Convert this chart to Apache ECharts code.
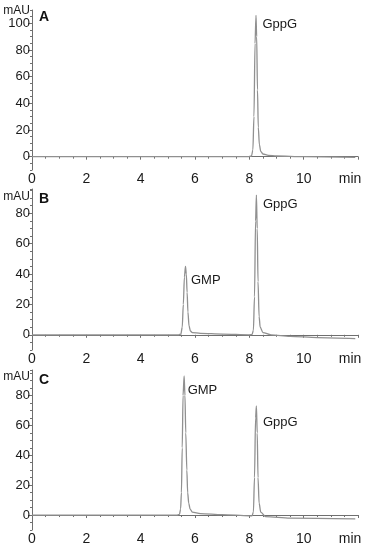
<!DOCTYPE html>
<html><head><meta charset="utf-8">
<script src="https://cdn.jsdelivr.net/npm/echarts@6/dist/echarts.min.js"></script>
<style>html,body{margin:0;padding:0;background:#fff}#c{width:368px;height:550px}</style>
</head><body><div id="c"></div>
<script>
// ---- data ----
const xTicks = [0, 2, 4, 6, 8, 10, 12];
const yTicksA = [0, 20, 40, 60, 80, 100];
const yTicksBC = [0, 20, 40, 60, 80];
const panelNames = ['A', 'B', 'C'];

const timeA   = [0, 2, 4, 6, 7.95, 8.08, 8.13, 8.17, 8.21, 8.245, 8.27, 8.30, 8.33, 8.37, 8.42, 8.50, 8.70, 9.0, 10.0, 11.9];
const signalA = [0, 0, 0, 0, 0,    0.5,  5,    30,   85,   106,   90,   50,   22,   9,    4,    2,    1,    0.5, 0,  -0.6];

const timeB   = [0, 2, 4, 5.40, 5.48, 5.53, 5.57, 5.61, 5.65, 5.68, 5.71, 5.74, 5.78, 5.83, 5.90, 6.2, 7.0, 8.0, 8.10, 8.15, 8.19, 8.23, 8.26, 8.29, 8.32, 8.36, 8.40, 8.50, 8.80, 9.5, 10.5, 11.9];
const signalB = [0, 0, 0, 0,    0.5,  5,    20,   38,   45,   40,   28,   15,   6,    2.5,  1.5,  1,   0.5, 0,   0.3,  3,    25,   75,   92,   70,   35,   12,   5,    1.5,  0,   -1,  -1.8, -2.5];

const timeC   = [0, 2, 4, 5.35, 5.43, 5.47, 5.50, 5.53, 5.56, 5.60, 5.63, 5.66, 5.70, 5.73, 5.77, 5.82, 5.90, 6.2, 7.0, 8.0, 8.10, 8.15, 8.19, 8.23, 8.26, 8.29, 8.32, 8.36, 8.42, 8.60, 9.5, 11.9];
const signalC = [0, 0, 0, 0,    0.5,  4,    15,   45,   80,   93,   80,   55,   30,   15,   8,    4,    2,    1,   0.3, -0.5, -0.5, 2,   25,   65,   73,   55,   25,   8,    2,    -1,   -2,  -2.5];

const peakLabelsA = [{ name: 'GppG', t: 8.245, v: 106 }];
const peakLabelsB = [{ name: 'GMP', t: 5.65, v: 45 }, { name: 'GppG', t: 8.26, v: 92 }];
const peakLabelsC = [{ name: 'GMP', t: 5.60, v: 93 }, { name: 'GppG', t: 8.26, v: 73 }];

const yMins = [-10, -10, -10];
const yMaxs = [110, 96, 97];

// ---- build ----
const zip = (a, b) => a.map((t, i) => [t, b[i]]);
const seriesData = [zip(timeA, signalA), zip(timeB, signalB), zip(timeC, signalC)];
const labels = [peakLabelsA, peakLabelsB, peakLabelsC];
const yTicks = [yTicksA, yTicksBC, yTicksBC];
const grids = [
  { left: 32, right: 10, top: 10, height: 160 },
  { left: 32, right: 10, top: 189, height: 161 },
  { left: 32, right: 10, top: 370, height: 160 }
];
const nameGaps = [-2, -8, -7];
const labelOffsets = [
  [[1, 9]],
  [[0, 14], [1, 9]],
  [[-2, 14], [1, 17]]
];
const axisColor = '#6f6f6f';
const textColor = '#1a1a1a';
const font = 'Liberation Sans, Arial, sans-serif';

const xAxis = [], yAxis = [], series = [], title = [];
for (let i = 0; i < 3; i++) {
  xAxis.push({
    type: 'value', gridIndex: i, min: xTicks[0], max: xTicks[xTicks.length - 1], interval: 2,
    axisLine: { show: true, lineStyle: { color: axisColor, width: 1 } },
    axisTick: { show: true, length: 3, lineStyle: { color: axisColor } },
    minorTick: { show: true, splitNumber: 4, length: 2, lineStyle: { color: axisColor } },
    splitLine: { show: false },
    axisLabel: {
      color: textColor, fontSize: 14, fontFamily: font, margin: 2,
      showMinLabel: true, showMaxLabel: true,
      formatter: v => v === 12 ? '{m|min}' : String(v),
      rich: { m: { fontSize: 14, fontFamily: font, color: textColor, padding: [0, 16, 0, 0] } }
    }
  });
  yAxis.push({
    type: 'value', gridIndex: i, min: yMins[i], max: yMaxs[i],
    name: 'mAU', nameLocation: 'end', nameGap: nameGaps[i],
    nameTextStyle: { color: textColor, fontSize: 12, fontFamily: font, align: 'right', verticalAlign: 'middle', padding: [0, 2, 0, 0] },
    axisLine: { show: true, onZero: false, lineStyle: { color: axisColor, width: 1 } },
    axisTick: { show: true, length: 4, customValues: yTicks[i], lineStyle: { color: axisColor } },
    splitLine: { show: false },
    axisLabel: { color: textColor, fontSize: 13, fontFamily: font, margin: 2, customValues: yTicks[i] }
  });
  title.push({
    text: panelNames[i], left: 39, top: grids[i].top + (i === 0 ? 0 : 3),
    padding: 0,
    textStyle: { fontSize: 14, fontWeight: 'bold', fontFamily: font, color: '#111' }
  });
}
for (let i = 0; i < 3; i++) {
  yAxis.push({
    type: 'value', gridIndex: i, min: yMins[i], max: yMaxs[i], interval: 5, position: 'left',
    axisLine: { show: false }, axisLabel: { show: false }, splitLine: { show: false },
    axisTick: { show: true, length: 2, lineStyle: { color: axisColor } }
  });
}
for (let i = 0; i < 3; i++) {
  series.push({
    type: 'line', xAxisIndex: i, yAxisIndex: i, data: seriesData[i],
    showSymbol: false, smooth: 0.3, smoothMonotone: 'x',
    lineStyle: { color: '#909090', width: 1.3 },
    markPoint: {
      symbol: 'circle', symbolSize: 1, silent: true,
      itemStyle: { color: 'rgba(0,0,0,0)' },
      data: labels[i].map((p, k) => ({
        coord: [p.t, p.v],
        label: {
          show: true, formatter: p.name, position: 'right', offset: labelOffsets[i][k],
          color: textColor, fontSize: 13, fontFamily: font
        }
      }))
    }
  });
}

const chart = echarts.init(document.getElementById('c'), null, { renderer: 'canvas' });
chart.setOption({ animation: false, backgroundColor: '#fff', title, grid: grids, xAxis, yAxis, series });
</script></body></html>
